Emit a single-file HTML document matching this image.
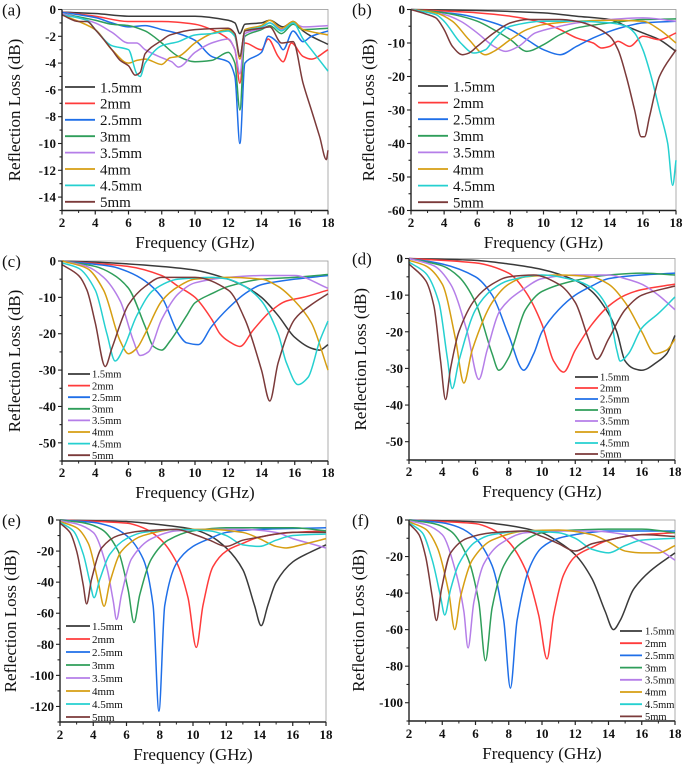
<!DOCTYPE html>
<html><head><meta charset="utf-8"><style>
html,body{margin:0;padding:0;background:#fff}
svg{display:block}
svg text{font-family:"Liberation Serif","Times New Roman",serif}
</style></head><body>
<svg id="fig" width="685" height="767" viewBox="0 0 685 767" xmlns="http://www.w3.org/2000/svg" font-family="Liberation Serif, serif"></svg>
<script>
const thicknessLabels = ["1.5mm","2mm","2.5mm","3mm","3.5mm","4mm","4.5mm","5mm"];
const xTicks = [2,4,6,8,10,12,14,16,18];
const aTicks = [0,-2,-4,-6,-8,-10,-12,-14];
const bTicks = [0,-10,-20,-30,-40,-50,-60];
const cTicks = [0,-10,-20,-30,-40,-50];
const eTicks = [0,-20,-40,-60,-80,-100,-120];
const fTicks = [0,-20,-40,-60,-80,-100];

// Panel (a)
const a15=[[2,-0.2],[4,-0.3],[6,-0.5],[8,-0.5],[10,-0.5],[12,-0.8],[12.4,-1.0],[12.7,-1.8],[13,-1.1],[14,-1.0],[14.5,-0.8],[15.3,-1.3],[15.9,-0.9],[16.5,-1.6],[17,-2.0],[18,-2.6]];
const a20=[[2,-0.2],[4,-0.5],[6,-0.9],[8,-0.9],[10,-1.1],[11,-1.5],[12,-2.2],[12.4,-3],[12.7,-5.5],[13,-2.5],[14,-3.0],[14.4,-2.2],[15,-3.5],[15.3,-3.9],[15.8,-2.5],[16.5,-3.5],[17,-3.7],[18,-3.0]];
const a25=[[2,-0.2],[4,-0.6],[5,-1.0],[6,-1.3],[7,-1.2],[8,-1.5],[9,-1.8],[10,-2.3],[11,-3.5],[12,-3.9],[12.4,-5],[12.7,-10],[13,-4],[14,-3.2],[14.4,-2.0],[15,-2.5],[15.3,-3.0],[15.9,-1.6],[16.5,-2.4],[17,-2.0],[18,-1.6]];
const a30=[[2,-0.3],[4,-0.8],[5,-1.1],[6,-1.2],[7,-1.6],[7.5,-2],[8,-2.5],[9,-3.5],[10,-3.9],[11,-3.8],[12,-3.2],[12.4,-4],[12.7,-7.5],[13,-2],[14,-1.5],[14.5,-1.2],[15.2,-1.8],[15.9,-1.1],[16.5,-1.5],[18,-1.4]];
const a35=[[2,-0.3],[4,-1.0],[5,-1.7],[6,-2.5],[6.5,-2.5],[7,-3.0],[8,-3.6],[8.6,-3.9],[9,-4.3],[10,-3.2],[11,-2.5],[12,-2.2],[12.4,-3],[12.7,-4.8],[13,-1.8],[14,-1.4],[14.5,-1.0],[15.2,-1.5],[15.9,-1.0],[16.5,-1.3],[18,-1.2]];
const a40=[[2,-0.4],[4,-1.5],[5,-3.0],[6,-4.0],[6.5,-3.8],[7,-3.7],[8,-4.1],[8.5,-3.6],[9,-3.5],[10,-2.5],[11,-1.8],[12,-1.5],[12.4,-2],[12.7,-3.7],[13,-1.5],[14,-1.2],[14.5,-0.8],[15.2,-1.4],[15.9,-0.9],[16.5,-1.5],[18,-1.9]];
const a45=[[2,-0.4],[3.5,-0.8],[4,-1.5],[5,-2.7],[6,-3.0],[6.5,-4.8],[6.7,-5.0],[7,-4.0],[8,-2.7],[9,-2.4],[10,-1.9],[11,-1.8],[12,-1.6],[12.4,-2],[12.7,-3.5],[13,-1.6],[14,-1.3],[14.5,-1.0],[15.2,-1.6],[15.9,-1.0],[16.5,-2.2],[17,-3.0],[18,-4.6]];
const a50=[[2,-0.4],[3,-0.9],[3.5,-0.9],[4,-1.5],[5,-3.0],[5.5,-3.8],[6,-4.2],[6.4,-4.9],[6.7,-4.7],[7,-3.3],[8,-2.3],[8.5,-1.9],[10,-1.5],[12,-1.4],[12.4,-1.8],[12.7,-3.5],[13,-1.6],[14,-1.4],[14.5,-1.3],[15.2,-2.5],[15.9,-2.4],[16.5,-5.5],[17,-7.5],[17.5,-9.5],[17.9,-11.2],[18,-10.5]];
// Panel (b)
const b15=[[2,0],[6,-0.3],[10,-1],[12,-2],[14,-3],[15,-5],[16,-7],[17,-9],[18,-12.5]];
const b20=[[2,0],[6,-1],[8,-2],[10,-4],[11,-6],[12,-8.5],[13,-10],[13.5,-11.5],[14,-11],[14.5,-9.5],[15.2,-11],[16,-8],[17,-9],[18,-7]];
const b25=[[2,0],[5,-1.5],[7,-4],[8,-6],[9,-9],[10,-12],[11,-13.5],[12,-11],[13,-8.5],[14,-6.5],[15,-5],[16,-4],[18,-3.5]];
const b30=[[2,0],[4,-1],[5,-2],[6,-3.5],[7,-6],[8,-9],[9,-12.5],[10,-10.5],[11,-7.5],[12,-5.5],[14,-4],[16,-3],[18,-2.8]];
const b35=[[2,0],[4,-1.5],[5,-3.5],[6,-7],[7,-11],[7.7,-12.5],[8.5,-11],[9.5,-7],[11,-5],[12,-4],[14,-3],[16,-2.5],[18,-3.5]];
const b40=[[2,0],[3.5,-1],[4.5,-3.5],[5.5,-9],[6.5,-13.5],[7,-12.5],[8,-9],[9,-6],[10,-4.5],[12,-3.5],[14,-3.2],[16,-3.5],[17,-6],[18,-10]];
const b45=[[2,0],[3.5,-1.5],[4,-3.5],[5,-10],[5.8,-13],[6.5,-12],[7,-9],[8,-5],[10,-3.5],[12,-3.5],[14,-4],[15,-5],[15.5,-7],[16,-12],[16.5,-20],[17,-30],[17.5,-40],[17.8,-52.5],[18,-45]];
const b50=[[2,0],[3,-1.5],[3.5,-2.5],[4,-6],[4.5,-11],[5.1,-13.5],[5.5,-13],[6,-11],[7,-7],[8,-4],[9,-3],[11,-3],[12,-3.5],[13,-5],[14,-8],[14.5,-12],[15,-20],[15.5,-30],[15.9,-38],[16.1,-38],[16.4,-32],[17,-20],[18,-12]];
// Panel (c)
const c15=[[2,0],[4,-0.3],[8,-1.5],[10,-2.5],[12,-5],[13,-7],[14,-10],[15,-15],[16,-21],[17,-24],[17.5,-24.5],[18,-23]];
const c20=[[2,0],[6,-1.5],[8,-4],[9,-7],[10,-10],[11,-16],[11.5,-20],[12,-22],[12.7,-23.5],[13.5,-19],[14.5,-14],[15.5,-11],[16.5,-10],[18,-8]];
const c25=[[2,0],[5,-1.5],[6,-3],[7,-5.5],[8,-10],[9,-20],[9.5,-22.5],[10.2,-23],[11,-18],[12,-13],[13,-9],[14,-6.5],[16,-5],[18,-4]];
const c30=[[2,0],[4,-1.5],[5,-3.5],[6,-7.5],[7,-18],[7.5,-23.5],[8,-24.5],[8.5,-22],[9.5,-15],[10,-11.5],[11,-9],[12,-7],[14,-5],[16,-4.5],[18,-3.7]];
const c35=[[2,0],[3.5,-1.5],[4.5,-4.5],[5.5,-11],[6.3,-22],[6.7,-26],[7.2,-25],[8,-16],[9,-9],[10,-6],[12,-4.5],[14,-4],[16,-4],[18,-7.5]];
const c40=[[2,0],[3.5,-2],[4.5,-8],[5.5,-22],[6,-25.5],[6.5,-24],[7,-20],[8,-11],[9,-7],[10,-5],[12,-4.5],[14,-5],[15,-7],[16,-11],[17,-17],[18,-30]];
const c45=[[2,-0.5],[3,-2],[4,-8],[4.7,-20],[5.2,-27.5],[5.7,-24],[6.5,-15],[7.5,-8],[9,-5],[11,-4.5],[12,-5],[13,-7],[14,-11],[15,-20],[15.5,-28],[16.2,-34],[16.8,-32],[17.5,-22],[18,-16.5]];
const c50=[[2,-1],[3,-4],[3.5,-8],[4,-17],[4.6,-29],[5,-24],[6,-12],[7,-7],[8,-4.5],[10,-4.5],[12,-8],[13,-16],[14,-30],[14.5,-38.5],[15,-28],[16,-16],[17,-12],[18,-9]];
// Panel (d)
const d15=[[2,0],[6,-0.5],[8,-1.5],[10,-3],[12,-6],[13,-9],[14,-15],[14.5,-20],[15,-28],[15.5,-30],[16,-30.5],[17,-28],[17.5,-26],[18,-21]];
const d20=[[2,0],[6,-1.2],[8,-4],[9,-9],[10,-18],[10.7,-28],[11.3,-31],[12,-25],[13,-18],[14,-13],[15,-10],[16,-8.5],[18,-7]];
const d25=[[2,0],[4,-1.5],[6,-5],[7,-10],[8,-21],[8.9,-30.5],[9.5,-26],[10,-20],[11,-14],[12,-10],[13,-7.5],[14,-5.5],[16,-4.5],[18,-4]];
const d30=[[2,0],[4,-2],[5,-5],[6,-12],[7,-26],[7.4,-30.5],[8,-27],[9,-14],[10,-9],[12,-6],[14,-4.5],[16,-4],[18,-4.5]];
const d35=[[2,0],[3.5,-2],[4.5,-7],[5.5,-20],[6.2,-33],[6.7,-25],[7.5,-14],[9,-8],[10,-5.5],[12,-4.5],[14,-4.5],[15,-5.5],[16,-7],[17,-10],[18,-14]];
const d40=[[2,-0.5],[3,-2],[4,-7],[4.8,-22],[5.3,-34],[5.8,-25],[7,-12],[8,-7],[9,-5],[11,-4.5],[13,-5],[14,-7],[15,-12],[16,-20],[16.8,-26],[17.5,-25],[18,-22]];
const d45=[[2,-1],[3,-4],[3.8,-12],[4.3,-27],[4.6,-35.5],[5,-28],[6,-14],[7,-8.5],[8,-6],[10,-4.5],[12,-6],[13,-8],[14,-14],[14.5,-25],[14.7,-28],[15.2,-26],[16,-19],[17,-15],[18,-10.5]];
const d50=[[2,-1.5],[3,-6],[3.5,-13],[3.9,-28],[4.2,-38.5],[4.5,-30],[5,-20],[6,-11],[7,-7],[8,-5],[9.5,-4.5],[11,-7],[12,-12],[12.8,-22],[13.3,-27.5],[14,-22],[15,-14],[16,-10],[18,-7.5]];
// Panel (e)
const e15=[[2,0],[6,-1],[8,-3],[10,-6],[11,-10],[12,-18],[13,-32],[13.7,-55],[14.1,-68],[14.5,-55],[15,-40],[16,-27],[17,-21],[18,-16]];
const e20=[[2,0],[6,-2],[7,-5],[8,-12],[9,-27],[9.7,-50],[10.2,-82],[10.6,-55],[11.2,-30],[12,-20],[13,-15],[14,-11],[16,-8],[18,-7]];
const e25=[[2,0],[4,-1.5],[5,-4],[6,-10],[7,-25],[7.6,-55],[7.95,-123],[8.3,-55],[9,-28],[10,-17],[11,-12],[12,-8],[14,-6],[18,-5]];
const e30=[[2,0],[3.5,-2],[4.5,-6],[5.5,-20],[6.1,-45],[6.45,-66],[6.8,-48],[7.5,-25],[8.5,-13],[10,-7],[12,-5],[14,-5],[16,-5],[18,-7]];
const e35=[[2,-0.5],[3,-2.5],[4,-8],[4.8,-30],[5.2,-52],[5.4,-64],[5.7,-48],[6.3,-25],[7.5,-12],[9,-7],[11,-6],[13,-6],[15,-8],[16,-12],[17,-15],[18,-18]];
const e40=[[2,-1],[3,-5],[3.7,-15],[4.3,-40],[4.65,-55.5],[5,-40],[5.7,-20],[7,-10],[9,-6],[11,-6],[13,-8],[14,-12],[15,-17],[15.6,-18],[16.5,-16],[18,-12]];
const e45=[[2,-1.5],[2.8,-7],[3.4,-22],[3.8,-40],[4.05,-50],[4.4,-38],[5,-22],[6,-12],[7,-8],[9,-6],[11,-7],[12,-10],[13,-16],[14,-17],[15,-13],[16,-10],[18,-9]];
const e50=[[2,-2],[2.6,-8],[3,-20],[3.4,-42],[3.6,-54],[3.9,-38],[4.5,-18],[5.5,-10],[7,-7],[9,-6],[10,-9],[11,-13],[12,-17],[13,-13],[14,-11],[15,-9],[16,-8],[18,-8]];
// Panel (f)
const f15=[[2,0],[6,-1],[8,-3],[10,-7],[11,-12],[12,-19],[13,-32],[13.8,-50],[14.3,-60],[14.7,-55],[15.5,-38],[16.5,-28],[18,-18]];
const f20=[[2,0],[6,-2],[7,-5],[8,-12],[9,-27],[9.8,-52],[10.3,-76],[10.7,-52],[11.3,-30],[12,-20],[13,-15],[14,-11],[16,-8],[18,-7]];
const f25=[[2,0],[4,-1.5],[5,-4],[6,-10],[7,-25],[7.7,-55],[8.1,-92],[8.5,-55],[9.3,-25],[10,-15],[11,-10],[12,-8],[14,-6],[18,-6]];
const f30=[[2,0],[3.5,-2],[4.5,-6],[5.5,-20],[6.2,-45],[6.6,-77],[7,-48],[7.7,-25],[8.7,-13],[10,-7],[12,-5.5],[14,-5],[16,-5],[18,-7]];
const f35=[[2,-0.5],[3,-2.5],[4,-8],[4.8,-28],[5.3,-50],[5.55,-70],[5.9,-45],[6.5,-24],[7.5,-13],[9,-7],[11,-6],[13,-6],[15,-8],[16,-12],[17,-16],[18,-22]];
const f40=[[2,-1],[3,-5],[3.7,-15],[4.4,-40],[4.75,-60],[5.1,-42],[5.8,-22],[7,-11],[9,-6],[11,-5.5],[13,-8],[14,-12],[15,-17],[16,-18],[17,-18],[18,-14]];
const f45=[[2,-1.5],[2.8,-7],[3.4,-22],[3.9,-42],[4.15,-52],[4.5,-38],[5,-24],[6,-12],[7,-8],[9,-6],[11,-7],[12,-10],[13,-16],[14,-18],[15,-14],[16,-11],[18,-10]];
const f50=[[2,-2],[2.6,-8],[3,-20],[3.4,-42],[3.65,-55],[3.95,-38],[4.5,-18],[5.5,-10],[7,-7],[9,-6],[10,-9],[11,-13],[12,-17],[13,-13],[14,-11],[15,-9],[16,-8],[18,-9]];

const colors=["#3a3a3a","#ff3b3b","#1f6fe8","#2f9e5a","#b57ee8","#d69e12","#25d0d0","#7b3a3a"];
const FONT='"Liberation Serif", "Times New Roman", serif';
const NS="http://www.w3.org/2000/svg";
const svg=document.getElementById('fig');
function mk(tag,attrs,parent){const e=document.createElementNS(NS,tag);for(const k in attrs)e.setAttribute(k,attrs[k]);if(tag==='text')e.setAttribute('font-family',FONT);(parent||svg).appendChild(e);return e;}

const panels=[
 {id:'a',L:62,R:328,T:9.5,B:210.5,ymin:-15,ticks:aTicks,minor:1,series:[a15,a20,a25,a30,a35,a40,a45,a50],
  leg:{x1:65,x2:95,tx:100,y:87,dy:16.4,fs:15},tickFs:13,tickLY:227,titleY:248,ytX:20},
 {id:'b',L:411,R:676,T:9.5,B:210.5,ymin:-60,ticks:bTicks,minor:5,series:[b15,b20,b25,b30,b35,b40,b45,b50],
  leg:{x1:418,x2:448,tx:453,y:86,dy:16.6,fs:15},tickFs:13,tickLY:227,titleY:248,ytX:374},
 {id:'c',L:62,R:328,T:261,B:461,ymin:-55,ticks:cTicks,minor:5,series:[c15,c20,c25,c30,c35,c40,c45,c50],
  leg:{x1:68,x2:90,tx:92,y:374,dy:11.6,fs:10.5},tickFs:13,tickLY:477,titleY:498,ytX:20},
 {id:'d',L:409,R:675,T:258.5,B:460,ymin:-55,ticks:cTicks,minor:5,series:[d15,d20,d25,d30,d35,d40,d45,d50],
  leg:{x1:575,x2:598,tx:600,y:377,dy:11,fs:10.5},tickFs:13,tickLY:476,titleY:497,ytX:366},
 {id:'e',L:60,R:326,T:520,B:722,ymin:-130,ticks:eTicks,minor:10,series:[e15,e20,e25,e30,e35,e40,e45,e50],
  leg:{x1:66,x2:90,tx:92,y:626,dy:13,fs:11},tickFs:13,tickLY:739,titleY:760,ytX:16},
 {id:'f',L:409,R:675,T:520,B:721,ymin:-110,ticks:fTicks,minor:10,series:[f15,f20,f25,f30,f35,f40,f45,f50],
  leg:{x1:620,x2:642,tx:645,y:631,dy:12.2,fs:10.5},tickFs:13,tickLY:738,titleY:759,ytX:364}
];

function monotonePath(pts){
 const n=pts.length;const xs=pts.map(p=>p[0]),ys=pts.map(p=>p[1]);
 const d=[],m=[];
 for(let i=0;i<n-1;i++)d.push((ys[i+1]-ys[i])/(xs[i+1]-xs[i]));
 m[0]=d[0];m[n-1]=d[n-2];
 for(let i=1;i<n-1;i++){ if(d[i-1]*d[i]<=0)m[i]=0; else m[i]=2/(1/d[i-1]+1/d[i]); }
 let s='M'+xs[0].toFixed(2)+','+ys[0].toFixed(2);
 for(let i=0;i<n-1;i++){const h=xs[i+1]-xs[i];
  s+=' C'+(xs[i]+h/3).toFixed(2)+','+(ys[i]+m[i]*h/3).toFixed(2)+' '+(xs[i+1]-h/3).toFixed(2)+','+(ys[i+1]-m[i+1]*h/3).toFixed(2)+' '+xs[i+1].toFixed(2)+','+ys[i+1].toFixed(2);}
 return s;
}

panels.forEach(p=>{
 const g=mk('g',{});
 
 
 const X=f=>p.L+(f-2)/16*(p.R-p.L);
 const Y=v=>p.T+(0-v)/(0-p.ymin)*(p.B-p.T);
 const fr=mk('rect',{x:p.L,y:p.T,width:p.R-p.L,height:p.B-p.T,fill:'none',stroke:'#999','stroke-width':0.8},g);
 
 
 p.series.forEach((s,i)=>{
  const pts=s.map(q=>[X(q[0]),Y(q[1])]);
  const path=mk('path',{d:monotonePath(pts),fill:'none',stroke:colors[i],'stroke-width':1.5,'stroke-linejoin':'round'},g);
  
  
 });
 const ax=mk('path',{d:`M${p.L},${p.T} V${p.B} H${p.R}`,fill:'none',stroke:'#222','stroke-width':1.4},g);
 
 
 xTicks.forEach(t=>{
  mk('line',{x1:X(t),x2:X(t),y1:p.B,y2:p.B+4,stroke:'#222','stroke-width':1.2},g);
  if(t<18) mk('line',{x1:X(t+1),x2:X(t+1),y1:p.B,y2:p.B+2.5,stroke:'#222','stroke-width':1},g);
  const tl=mk('text',{x:X(t),y:p.tickLY,'text-anchor':'middle','font-size':p.tickFs,'font-weight':'bold',fill:'#111'},g);
  tl.textContent=t;
  
  
 });
 for(let v=0;v>=p.ymin;v-=p.minor){
  const major=p.ticks.includes(v);
  mk('line',{x1:p.L-(major?4:2.5),x2:p.L,y1:Y(v),y2:Y(v),stroke:'#222','stroke-width':1.1},g);
 }
 p.ticks.forEach(v=>{
  const tl=mk('text',{x:p.L-6,y:Y(v)+4.5,'text-anchor':'end','font-size':p.tickFs,'font-weight':'bold',fill:'#111'},g);
  tl.textContent=v;
  
  
 });
 const xt=mk('text',{x:(p.L+p.R)/2,y:p.titleY,'text-anchor':'middle','font-size':17,fill:'#111'},g);
 xt.textContent='Frequency (GHz)';
 
 
 const cy=(p.T+p.B)/2;
 const yt=mk('text',{x:p.ytX,y:cy,'text-anchor':'middle','font-size':17,fill:'#111',transform:`rotate(-90 ${p.ytX} ${cy})`},g);
 yt.textContent='Reflection Loss (dB)';
 
 
 const pl=mk('text',{x:p.id==='a'||p.id==='c'||p.id==='e'?2:352,y:p.T+6,'font-size':17,fill:'#111'},g);
 pl.textContent='('+p.id+')';
 
 
 thicknessLabels.forEach((lab,i)=>{
  const yy=p.leg.y+i*p.leg.dy;
  const ll=mk('line',{x1:p.leg.x1,x2:p.leg.x2,y1:yy,y2:yy,stroke:colors[i],'stroke-width':1.8},g);
  
  
  const lt=mk('text',{x:p.leg.tx,y:yy+p.leg.fs*0.35,'font-size':p.leg.fs,fill:'#111'},g);
  lt.textContent=lab;
  
  
 });
});
</script>
</body></html>
